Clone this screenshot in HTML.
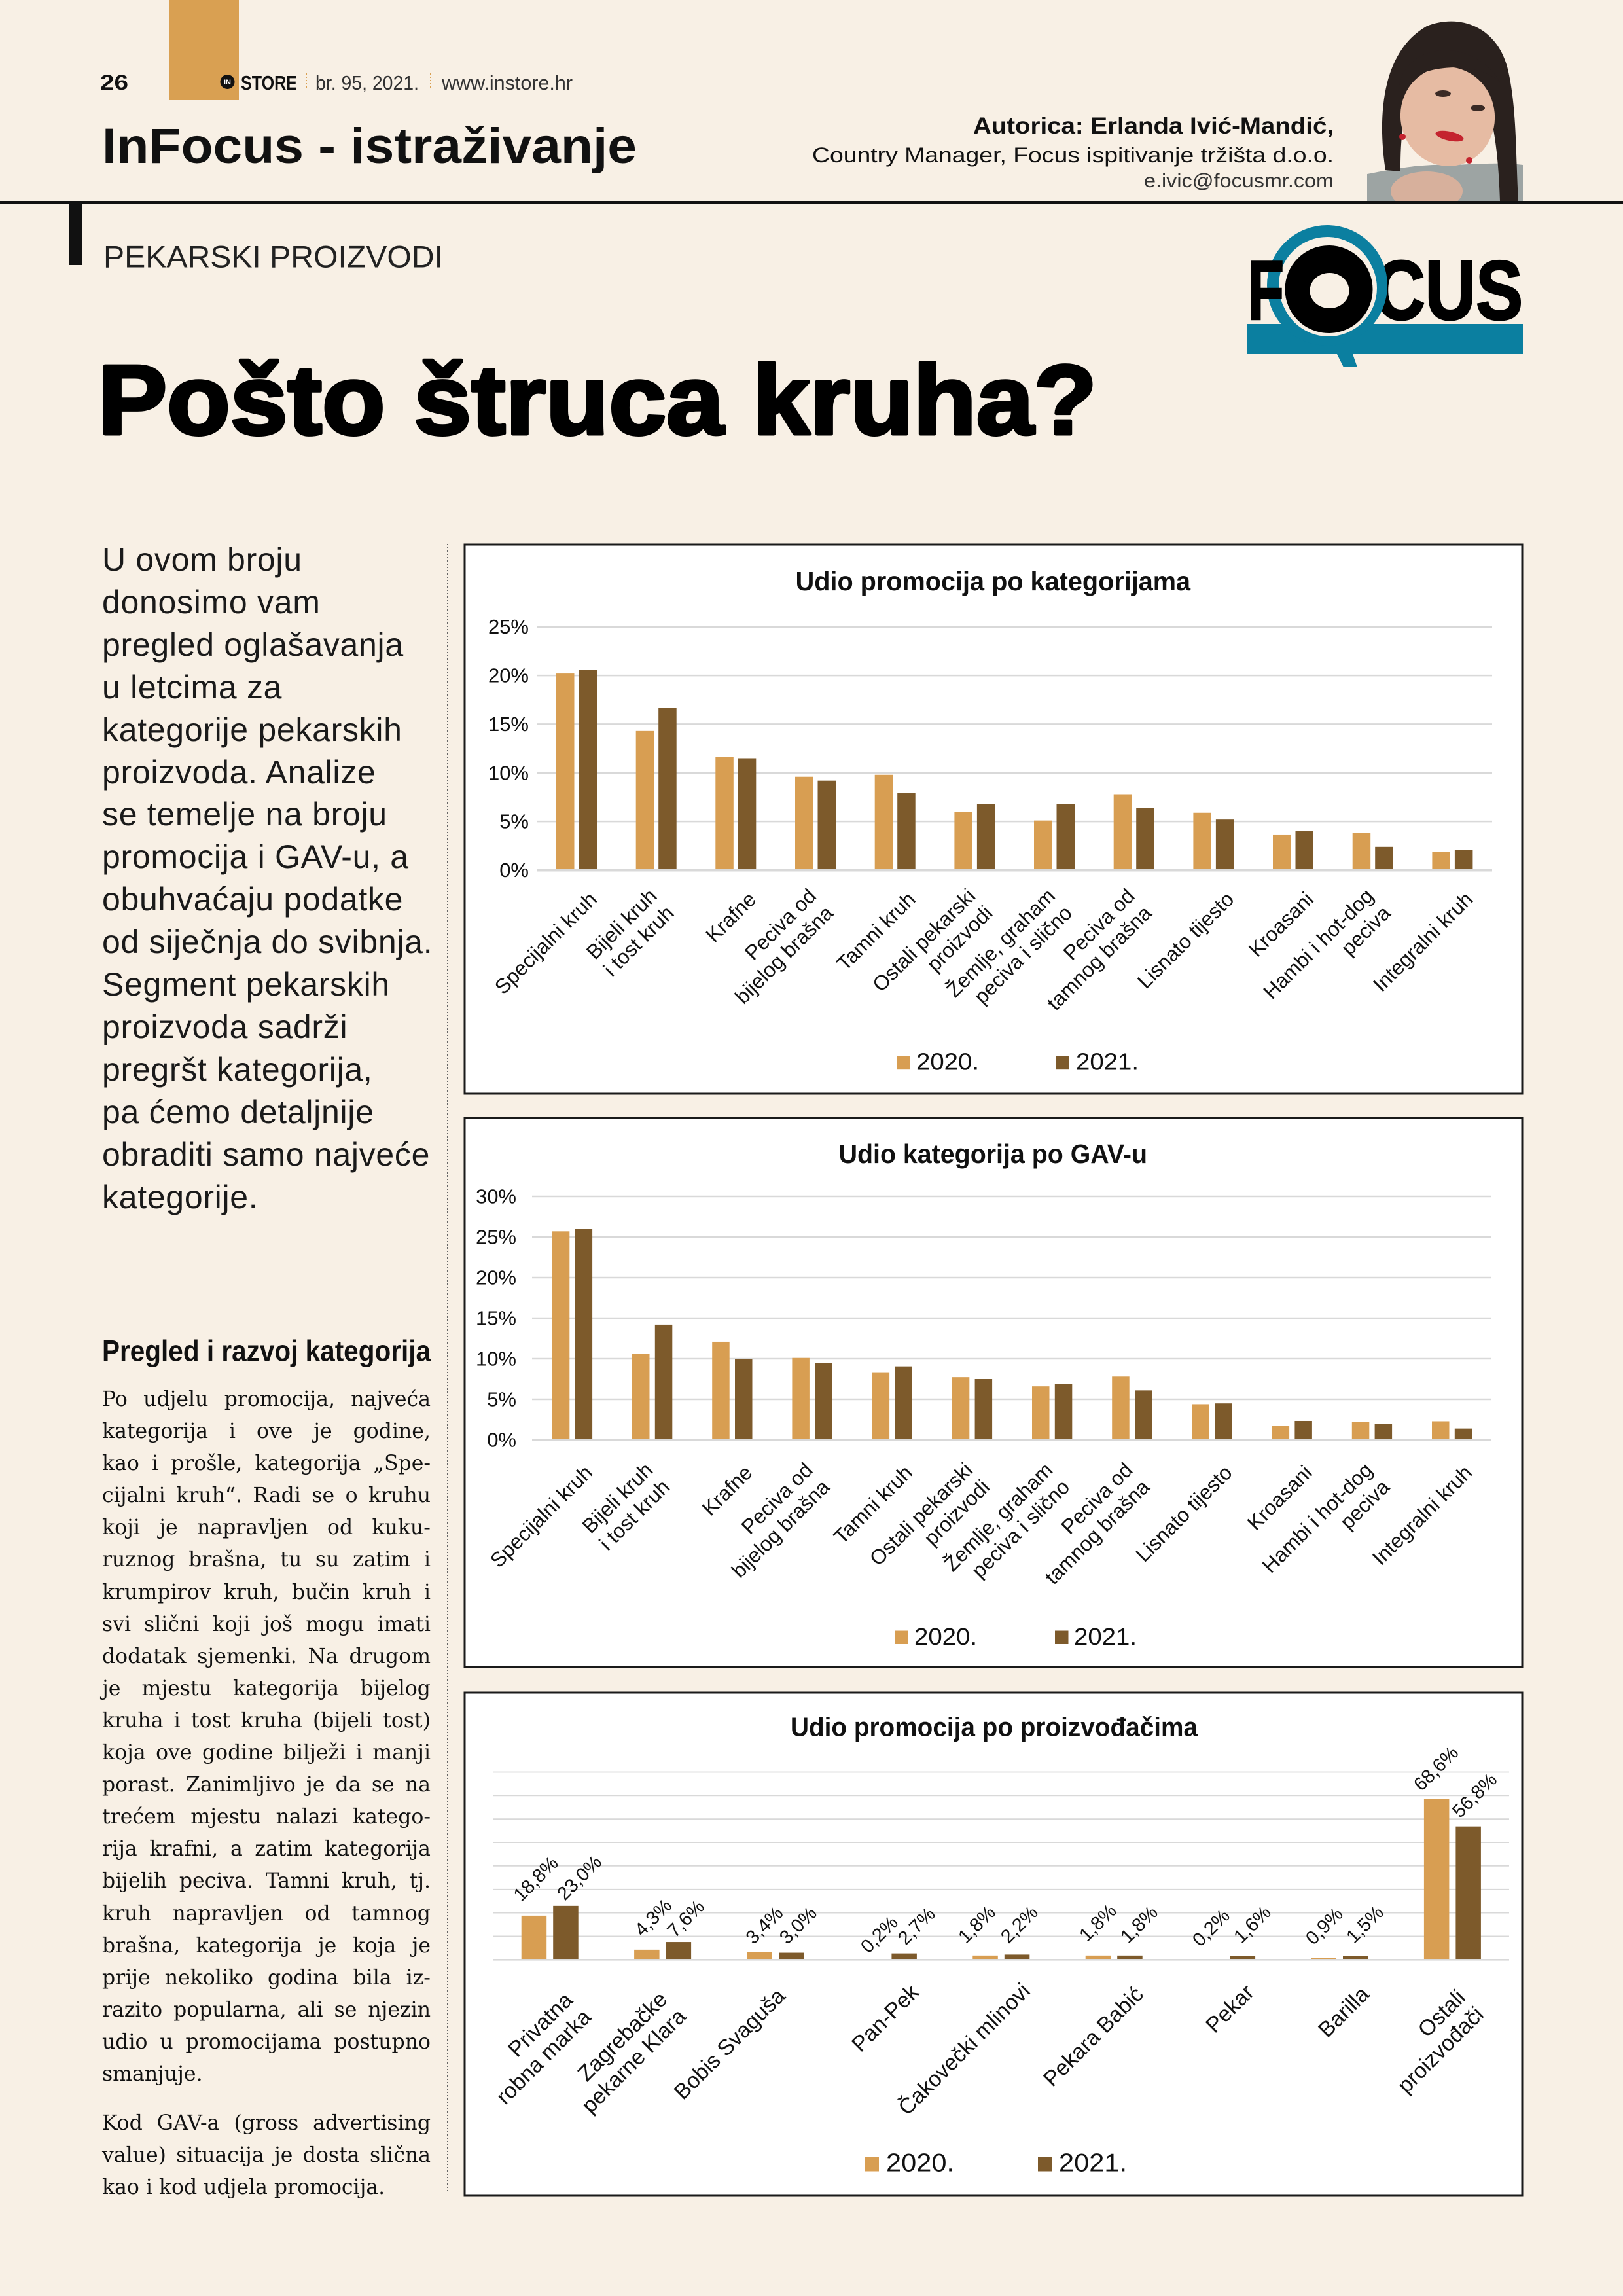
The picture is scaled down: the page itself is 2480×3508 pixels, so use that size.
<!DOCTYPE html>
<html><head><meta charset="utf-8">
<style>
html,body{margin:0;padding:0;}
body{width:2480px;height:3508px;background:#f8f0e5;position:relative;overflow:hidden;font-family:"Liberation Sans",sans-serif;}
svg{position:absolute;left:0;top:0;}
.intro{position:absolute;left:156px;top:823px;font-family:"Liberation Sans",sans-serif;font-size:50px;line-height:64.9px;letter-spacing:0.7px;color:#1a1a1a;white-space:pre;}
.bd{position:absolute;left:156px;width:502px;font-family:"DejaVu Serif",serif;font-size:31.5px;color:#111;}
.j{display:flex;justify-content:space-between;white-space:nowrap;}
.l{white-space:nowrap;}
</style></head><body>
<svg width="2480" height="3508" viewBox="0 0 2480 3508" xmlns="http://www.w3.org/2000/svg" font-family="Liberation Sans, sans-serif">
<defs>
<clipPath id="ph"><rect x="2089" y="0" width="238" height="307"/></clipPath>
</defs>
<!-- header -->
<rect x="259" y="0" width="106" height="153" fill="#d9a052"/>
<text x="153" y="137" font-size="32" font-weight="bold" textLength="43" lengthAdjust="spacingAndGlyphs" fill="#111">26</text>
<circle cx="347.5" cy="125" r="11" fill="#111"/>
<text x="347.5" y="129" font-size="11" font-weight="bold" fill="#fff" text-anchor="middle">IN</text>
<text x="368" y="137" font-size="31" font-weight="bold" textLength="86" lengthAdjust="spacingAndGlyphs" fill="#111">STORE</text>
<line x1="468" y1="112" x2="468" y2="138" stroke="#d9a052" stroke-width="2" stroke-dasharray="2 3"/>
<text x="482" y="137" font-size="31" textLength="158" lengthAdjust="spacingAndGlyphs" fill="#333">br. 95, 2021.</text>
<line x1="658" y1="112" x2="658" y2="138" stroke="#d9a052" stroke-width="2" stroke-dasharray="2 3"/>
<text x="675" y="137" font-size="31" textLength="200" lengthAdjust="spacingAndGlyphs" fill="#333">www.instore.hr</text>
<text x="156" y="249" font-size="76" font-weight="bold" textLength="817" lengthAdjust="spacingAndGlyphs" fill="#111">InFocus - istraživanje</text>
<text x="1487" y="204" font-size="35" font-weight="bold" textLength="551" lengthAdjust="spacingAndGlyphs" fill="#111">Autorica: Erlanda Ivić-Mandić,</text>
<text x="1241" y="248" font-size="32" textLength="797" lengthAdjust="spacingAndGlyphs" fill="#111">Country Manager, Focus ispitivanje tržišta d.o.o.</text>
<text x="1748" y="286" font-size="30" textLength="290" lengthAdjust="spacingAndGlyphs" fill="#333">e.ivic@focusmr.com</text>
<!-- photo -->
<g clip-path="url(#ph)">
<path d="M2089 266 C2130 258 2170 250 2220 252 C2270 250 2300 248 2327 252 L2327 307 L2089 307Z" fill="#9da4a3"/>
<ellipse cx="2180" cy="292" rx="55" ry="30" fill="#d7b09c"/>
<path d="M2117 260 C2105 180 2110 80 2180 40 C2230 20 2290 40 2305 110 C2318 170 2316 240 2320 307 L2292 307 C2290 250 2285 200 2275 170 L2150 160 C2140 200 2140 240 2140 262Z" fill="#2a211e"/>
<ellipse cx="2212" cy="178" rx="72" ry="76" fill="#e6bba3" transform="rotate(-10 2212 178)"/>
<path d="M2138 130 C2150 65 2250 55 2292 125 C2262 98 2190 92 2138 130Z" fill="#2a211e"/>
<ellipse cx="2205" cy="143" rx="12" ry="5" fill="#3a2a25"/>
<ellipse cx="2258" cy="165" rx="11" ry="5" fill="#3a2a25"/>
<ellipse cx="2215" cy="208" rx="22" ry="7" fill="#c4232e" transform="rotate(12 2215 208)"/>
<circle cx="2143" cy="209" r="5" fill="#c4232e"/>
<circle cx="2245" cy="245" r="5" fill="#c4232e"/>
</g>
<!-- rule -->
<rect x="0" y="307" width="2480" height="4.5" fill="#111"/>
<rect x="106" y="309" width="19" height="96" fill="#111"/>
<text x="158" y="408.5" font-size="47" textLength="519" lengthAdjust="spacingAndGlyphs" fill="#222">PEKARSKI PROIZVODI</text>
<!-- FOCUS logo -->
<rect x="1905" y="495" width="422" height="46" fill="#0b7fa0"/>
<text x="2100" y="488" font-size="128" font-weight="bold" textLength="227" lengthAdjust="spacingAndGlyphs" fill="#000" stroke="#000" stroke-width="3">CUS</text>
<circle cx="2028" cy="436" r="83" fill="none" stroke="#0b7fa0" stroke-width="18"/>
<circle cx="2030" cy="440" r="74" fill="#f8f0e5"/>
<text x="1906" y="488" font-size="128" font-weight="bold" textLength="56" lengthAdjust="spacingAndGlyphs" fill="#000" stroke="#000" stroke-width="3">F</text>
<circle cx="2030.5" cy="442" r="67" fill="#000"/>
<ellipse cx="2031.5" cy="444" rx="30" ry="27" fill="#f8f0e5"/>
<polygon points="2043,541 2067,541 2074,561 2053,561" fill="#0b7fa0"/>
<!-- title -->
<text x="150" y="663" font-size="151" font-weight="bold" textLength="1526" lengthAdjust="spacingAndGlyphs" fill="#000" stroke="#000" stroke-width="5" stroke-linejoin="round">Pošto štruca kruha?</text>
<!-- divider -->
<line x1="684" y1="831" x2="684" y2="3351" stroke="#666" stroke-width="2" stroke-dasharray="2 3"/>
<text x="156" y="2079.5" font-size="45" font-weight="bold" textLength="502" lengthAdjust="spacingAndGlyphs" fill="#111">Pregled i razvoj kategorija</text>

<!-- ================= CHART 1 ================= -->
<rect x="710" y="832" width="1616" height="839" fill="#fff" stroke="#1a1a1a" stroke-width="3"/>
<text x="1215.6" y="902" font-size="41" font-weight="bold" textLength="603.5" lengthAdjust="spacingAndGlyphs" fill="#111">Udio promocija po kategorijama</text>
<g stroke="#d9d9d9" stroke-width="2.5">
<line x1="820" y1="957.7" x2="2280" y2="957.7"/>
<line x1="820" y1="1032.1" x2="2280" y2="1032.1"/>
<line x1="820" y1="1106.4" x2="2280" y2="1106.4"/>
<line x1="820" y1="1180.8" x2="2280" y2="1180.8"/>
<line x1="820" y1="1255.1" x2="2280" y2="1255.1"/>
</g>
<g font-size="31" text-anchor="end" fill="#111">
<text x="808" y="968.2">25%</text><text x="808" y="1042.6">20%</text><text x="808" y="1116.9">15%</text>
<text x="808" y="1191.3">10%</text><text x="808" y="1265.6">5%</text><text x="808" y="1340">0%</text>
</g>
<g transform="translate(0,1329.5) scale(1,-14.872)">
<g fill="#d89e52">
<rect x="850" y="0" width="27.5" height="20.2"/><rect x="971.7" y="0" width="27.5" height="14.3"/>
<rect x="1093.3" y="0" width="27.5" height="11.6"/><rect x="1215" y="0" width="27.5" height="9.6"/>
<rect x="1336.7" y="0" width="27.5" height="9.8"/><rect x="1458.4" y="0" width="27.5" height="6.0"/>
<rect x="1580" y="0" width="27.5" height="5.1"/><rect x="1701.7" y="0" width="27.5" height="7.8"/>
<rect x="1823.4" y="0" width="27.5" height="5.9"/><rect x="1945" y="0" width="27.5" height="3.6"/>
<rect x="2066.7" y="0" width="27.5" height="3.8"/><rect x="2188.4" y="0" width="27.5" height="1.9"/>
</g>
<g fill="#7d5a2b">
<rect x="884.5" y="0" width="27.5" height="20.6"/><rect x="1006.2" y="0" width="27.5" height="16.7"/>
<rect x="1127.8" y="0" width="27.5" height="11.5"/><rect x="1249.5" y="0" width="27.5" height="9.2"/>
<rect x="1371.2" y="0" width="27.5" height="7.9"/><rect x="1492.9" y="0" width="27.5" height="6.8"/>
<rect x="1614.5" y="0" width="27.5" height="6.8"/><rect x="1736.2" y="0" width="27.5" height="6.4"/>
<rect x="1857.9" y="0" width="27.5" height="5.2"/><rect x="1979.5" y="0" width="27.5" height="4.0"/>
<rect x="2101.2" y="0" width="27.5" height="2.4"/><rect x="2222.9" y="0" width="27.5" height="2.1"/>
</g>
</g>
<line x1="820" y1="1329.5" x2="2280" y2="1329.5" stroke="#d9d9d9" stroke-width="4"/>
<g font-size="31.5" text-anchor="end" fill="#111">
<text x="914" y="1376" transform="rotate(-45 914 1376)">Specijalni kruh</text>
<text x="1005.7" y="1371" transform="rotate(-45 1005.7 1371)">Bijeli kruh</text>
<text x="1031.7" y="1397" transform="rotate(-45 1031.7 1397)">i tost kruh</text>
<text x="1157.3" y="1376" transform="rotate(-45 1157.3 1376)">Krafne</text>
<text x="1249" y="1371" transform="rotate(-45 1249 1371)">Peciva od</text>
<text x="1275" y="1397" transform="rotate(-45 1275 1397)">bijelog brašna</text>
<text x="1400.7" y="1376" transform="rotate(-45 1400.7 1376)">Tamni kruh</text>
<text x="1492.4" y="1371" transform="rotate(-45 1492.4 1371)">Ostali pekarski</text>
<text x="1518.4" y="1397" transform="rotate(-45 1518.4 1397)">proizvodi</text>
<text x="1614" y="1371" transform="rotate(-45 1614 1371)">Žemlje, graham</text>
<text x="1640" y="1397" transform="rotate(-45 1640 1397)">peciva i slično</text>
<text x="1735.7" y="1371" transform="rotate(-45 1735.7 1371)">Peciva od</text>
<text x="1761.7" y="1397" transform="rotate(-45 1761.7 1397)">tamnog brašna</text>
<text x="1887.4" y="1376" transform="rotate(-45 1887.4 1376)">Lisnato tijesto</text>
<text x="2009" y="1376" transform="rotate(-45 2009 1376)">Kroasani</text>
<text x="2100.7" y="1371" transform="rotate(-45 2100.7 1371)">Hambi i hot-dog</text>
<text x="2126.7" y="1397" transform="rotate(-45 2126.7 1397)">peciva</text>
<text x="2252.4" y="1376" transform="rotate(-45 2252.4 1376)">Integralni kruh</text>
</g>
<rect x="1370" y="1613.7" width="20.5" height="20.5" fill="#d89e52"/>
<text x="1400" y="1634.5" font-size="36" textLength="96" lengthAdjust="spacingAndGlyphs" fill="#111">2020.</text>
<rect x="1613" y="1613.7" width="20.5" height="20.5" fill="#7d5a2b"/>
<text x="1644" y="1634.5" font-size="36" textLength="96" lengthAdjust="spacingAndGlyphs" fill="#111">2021.</text>

<!-- ================= CHART 2 ================= -->
<rect x="710" y="1708" width="1616" height="839" fill="#fff" stroke="#1a1a1a" stroke-width="3"/>
<text x="1281.6" y="1777" font-size="41" font-weight="bold" textLength="471.4" lengthAdjust="spacingAndGlyphs" fill="#111">Udio kategorija po GAV-u</text>
<g stroke="#d9d9d9" stroke-width="2.5">
<line x1="813" y1="1828" x2="2279" y2="1828"/>
<line x1="813" y1="1890" x2="2279" y2="1890"/>
<line x1="813" y1="1952" x2="2279" y2="1952"/>
<line x1="813" y1="2014" x2="2279" y2="2014"/>
<line x1="813" y1="2076" x2="2279" y2="2076"/>
<line x1="813" y1="2138" x2="2279" y2="2138"/>
</g>
<g font-size="31" text-anchor="end" fill="#111">
<text x="789" y="1838.5">30%</text><text x="789" y="1900.5">25%</text><text x="789" y="1962.5">20%</text>
<text x="789" y="2024.5">15%</text><text x="789" y="2086.5">10%</text><text x="789" y="2148.5">5%</text>
<text x="789" y="2210.5">0%</text>
</g>
<g transform="translate(0,2200) scale(1,-12.4)">
<g fill="#d89e52">
<rect x="843.8" y="0" width="26.5" height="25.7"/><rect x="966" y="0" width="26.5" height="10.6"/>
<rect x="1088.2" y="0" width="26.5" height="12.1"/><rect x="1210.4" y="0" width="26.5" height="10.1"/>
<rect x="1332.6" y="0" width="26.5" height="8.26"/><rect x="1454.8" y="0" width="26.5" height="7.73"/>
<rect x="1577" y="0" width="26.5" height="6.6"/><rect x="1699.2" y="0" width="26.5" height="7.8"/>
<rect x="1821.4" y="0" width="26.5" height="4.4"/><rect x="1943.6" y="0" width="26.5" height="1.77"/>
<rect x="2065.8" y="0" width="26.5" height="2.2"/><rect x="2188" y="0" width="26.5" height="2.3"/>
</g>
<g fill="#7d5a2b">
<rect x="878.6" y="0" width="26.5" height="26.0"/><rect x="1000.8" y="0" width="26.5" height="14.2"/>
<rect x="1123" y="0" width="26.5" height="10.0"/><rect x="1245.2" y="0" width="26.5" height="9.45"/>
<rect x="1367.4" y="0" width="26.5" height="9.06"/><rect x="1489.6" y="0" width="26.5" height="7.5"/>
<rect x="1611.8" y="0" width="26.5" height="6.9"/><rect x="1734" y="0" width="26.5" height="6.1"/>
<rect x="1856.2" y="0" width="26.5" height="4.5"/><rect x="1978.4" y="0" width="26.5" height="2.34"/>
<rect x="2100.6" y="0" width="26.5" height="2.0"/><rect x="2222.8" y="0" width="26.5" height="1.4"/>
</g>
</g>
<line x1="813" y1="2200" x2="2279" y2="2200" stroke="#d9d9d9" stroke-width="4"/>
<g font-size="31.5" text-anchor="end" fill="#111">
<text x="907.1" y="2252" transform="rotate(-45 907.1 2252)">Specijalni kruh</text>
<text x="999.3" y="2248" transform="rotate(-45 999.3 2248)">Bijeli kruh</text>
<text x="1025.3" y="2274" transform="rotate(-45 1025.3 2274)">i tost kruh</text>
<text x="1151.5" y="2252" transform="rotate(-45 1151.5 2252)">Krafne</text>
<text x="1243.7" y="2248" transform="rotate(-45 1243.7 2248)">Peciva od</text>
<text x="1269.7" y="2274" transform="rotate(-45 1269.7 2274)">bijelog brašna</text>
<text x="1395.9" y="2252" transform="rotate(-45 1395.9 2252)">Tamni kruh</text>
<text x="1488.1" y="2248" transform="rotate(-45 1488.1 2248)">Ostali pekarski</text>
<text x="1514.1" y="2274" transform="rotate(-45 1514.1 2274)">proizvodi</text>
<text x="1610.3" y="2248" transform="rotate(-45 1610.3 2248)">Žemlje, graham</text>
<text x="1636.3" y="2274" transform="rotate(-45 1636.3 2274)">peciva i slično</text>
<text x="1732.5" y="2248" transform="rotate(-45 1732.5 2248)">Peciva od</text>
<text x="1758.5" y="2274" transform="rotate(-45 1758.5 2274)">tamnog brašna</text>
<text x="1884.7" y="2252" transform="rotate(-45 1884.7 2252)">Lisnato tijesto</text>
<text x="2006.9" y="2252" transform="rotate(-45 2006.9 2252)">Kroasani</text>
<text x="2099.1" y="2248" transform="rotate(-45 2099.1 2248)">Hambi i hot-dog</text>
<text x="2125.1" y="2274" transform="rotate(-45 2125.1 2274)">peciva</text>
<text x="2251.3" y="2252" transform="rotate(-45 2251.3 2252)">Integralni kruh</text>
</g>
<rect x="1367" y="2491.5" width="20.5" height="20.5" fill="#d89e52"/>
<text x="1397" y="2513" font-size="36" textLength="96" lengthAdjust="spacingAndGlyphs" fill="#111">2020.</text>
<rect x="1612" y="2491.5" width="20.5" height="20.5" fill="#7d5a2b"/>
<text x="1641" y="2513" font-size="36" textLength="96" lengthAdjust="spacingAndGlyphs" fill="#111">2021.</text>

<!-- ================= CHART 3 ================= -->
<rect x="710" y="2586" width="1616" height="768" fill="#fff" stroke="#1a1a1a" stroke-width="3"/>
<text x="1208" y="2652.6" font-size="41" font-weight="bold" textLength="622" lengthAdjust="spacingAndGlyphs" fill="#111">Udio promocija po proizvođačima</text>
<g stroke="#d9d9d9" stroke-width="1.8">
<line x1="754" y1="2707.5" x2="2306" y2="2707.5"/>
<line x1="754" y1="2743.35" x2="2306" y2="2743.35"/>
<line x1="754" y1="2779.2" x2="2306" y2="2779.2"/>
<line x1="754" y1="2815.05" x2="2306" y2="2815.05"/>
<line x1="754" y1="2850.9" x2="2306" y2="2850.9"/>
<line x1="754" y1="2886.75" x2="2306" y2="2886.75"/>
<line x1="754" y1="2922.6" x2="2306" y2="2922.6"/>
<line x1="754" y1="2958.45" x2="2306" y2="2958.45"/>
</g>
<g transform="translate(0,2994.3) scale(1,-3.585)">
<g fill="#d89e52">
<rect x="796.7" y="0" width="38.5" height="18.8"/><rect x="969.1" y="0" width="38.5" height="4.3"/>
<rect x="1141.5" y="0" width="38.5" height="3.4"/><rect x="1313.9" y="0" width="38.5" height="0.2"/>
<rect x="1486.3" y="0" width="38.5" height="1.8"/><rect x="1658.7" y="0" width="38.5" height="1.8"/>
<rect x="1831.1" y="0" width="38.5" height="0.2"/><rect x="2003.5" y="0" width="38.5" height="0.9"/>
<rect x="2175.9" y="0" width="38.5" height="68.6"/>
</g>
<g fill="#7d5a2b">
<rect x="845.2" y="0" width="38.5" height="23.0"/><rect x="1017.6" y="0" width="38.5" height="7.6"/>
<rect x="1190" y="0" width="38.5" height="3.0"/><rect x="1362.4" y="0" width="38.5" height="2.7"/>
<rect x="1534.8" y="0" width="38.5" height="2.2"/><rect x="1707.2" y="0" width="38.5" height="1.8"/>
<rect x="1879.6" y="0" width="38.5" height="1.6"/><rect x="2052" y="0" width="38.5" height="1.5"/>
<rect x="2224.4" y="0" width="38.5" height="56.8"/>
</g>
</g>
<line x1="754" y1="2994.3" x2="2306" y2="2994.3" stroke="#d9d9d9" stroke-width="2.7"/>
<g font-size="29" fill="#111">
<text x="796.5" y="2906.7" transform="rotate(-45 796.5 2906.7)">18,8%</text>
<text x="863" y="2905" transform="rotate(-45 863 2905)">23,0%</text>
<text x="981.5" y="2960" transform="rotate(-45 981.5 2960)">4,3%</text>
<text x="1031.5" y="2961.7" transform="rotate(-45 1031.5 2961.7)">7,6%</text>
<text x="1151.5" y="2971.7" transform="rotate(-45 1151.5 2971.7)">3,4%</text>
<text x="1203" y="2971.7" transform="rotate(-45 1203 2971.7)">3,0%</text>
<text x="1327" y="2985.8" transform="rotate(-45 1327 2985.8)">0,2%</text>
<text x="1384" y="2973" transform="rotate(-45 1384 2973)">2,7%</text>
<text x="1476" y="2970.5" transform="rotate(-45 1476 2970.5)">1,8%</text>
<text x="1541" y="2970.5" transform="rotate(-45 1541 2970.5)">2,2%</text>
<text x="1661" y="2968" transform="rotate(-45 1661 2968)">1,8%</text>
<text x="1724" y="2970.5" transform="rotate(-45 1724 2970.5)">1,8%</text>
<text x="1834" y="2975.6" transform="rotate(-45 1834 2975.6)">0,2%</text>
<text x="1897" y="2970.5" transform="rotate(-45 1897 2970.5)">1,6%</text>
<text x="2007" y="2973" transform="rotate(-45 2007 2973)">0,9%</text>
<text x="2069" y="2970.5" transform="rotate(-45 2069 2970.5)">1,5%</text>
<text x="2172" y="2738" transform="rotate(-45 2172 2738)">68,6%</text>
<text x="2231" y="2779" transform="rotate(-45 2231 2779)">56,8%</text>
</g>
<g font-size="33.5" text-anchor="end" fill="#111">
<text x="877" y="3058" transform="rotate(-45 877 3058)">Privatna</text>
<text x="905" y="3084" transform="rotate(-45 905 3084)">robna marka</text>
<text x="1021.7" y="3056.7" transform="rotate(-45 1021.7 3056.7)">Zagrebačke</text>
<text x="1050" y="3083" transform="rotate(-45 1050 3083)">pekarne Klara</text>
<text x="1201.7" y="3051.7" transform="rotate(-45 1201.7 3051.7)">Bobis Svaguša</text>
<text x="1406" y="3046" transform="rotate(-45 1406 3046)">Pan-Pek</text>
<text x="1576" y="3044" transform="rotate(-45 1576 3044)">Čakovečki mlinovi</text>
<text x="1749" y="3049" transform="rotate(-45 1749 3049)">Pekara Babić</text>
<text x="1918" y="3046" transform="rotate(-45 1918 3046)">Pekar</text>
<text x="2094" y="3049" transform="rotate(-45 2094 3049)">Barilla</text>
<text x="2241" y="3054" transform="rotate(-45 2241 3054)">Ostali</text>
<text x="2269" y="3080" transform="rotate(-45 2269 3080)">proizvođači</text>
</g>
<rect x="1322" y="3295.5" width="21" height="22" fill="#d89e52"/>
<text x="1354" y="3317.5" font-size="39" textLength="104" lengthAdjust="spacingAndGlyphs" fill="#111">2020.</text>
<rect x="1586" y="3295.5" width="21" height="22" fill="#7d5a2b"/>
<text x="1618" y="3317.5" font-size="39" textLength="104" lengthAdjust="spacingAndGlyphs" fill="#111">2021.</text>
</svg>

<div class="intro">U ovom broju
donosimo vam
pregled oglašavanja
u letcima za
kategorije pekarskih
proizvoda. Analize
se temelje na broju
promocija i GAV-u, a
obuhvaćaju podatke
od siječnja do svibnja.
Segment pekarskih
proizvoda sadrži
pregršt kategorija,
pa ćemo detaljnije
obraditi samo najveće
kategorije.</div>

<div class="bd" style="top:2114px;line-height:49.1px;">
<div class="j"><span>Po</span><span>udjelu</span><span>promocija,</span><span>najveća</span></div>
<div class="j"><span>kategorija</span><span>i</span><span>ove</span><span>je</span><span>godine,</span></div>
<div class="j"><span>kao</span><span>i</span><span>prošle,</span><span>kategorija</span><span>„Spe-</span></div>
<div class="j"><span>cijalni</span><span>kruh“.</span><span>Radi</span><span>se</span><span>o</span><span>kruhu</span></div>
<div class="j"><span>koji</span><span>je</span><span>napravljen</span><span>od</span><span>kuku-</span></div>
<div class="j"><span>ruznog</span><span>brašna,</span><span>tu</span><span>su</span><span>zatim</span><span>i</span></div>
<div class="j"><span>krumpirov</span><span>kruh,</span><span>bučin</span><span>kruh</span><span>i</span></div>
<div class="j"><span>svi</span><span>slični</span><span>koji</span><span>još</span><span>mogu</span><span>imati</span></div>
<div class="j"><span>dodatak</span><span>sjemenki.</span><span>Na</span><span>drugom</span></div>
<div class="j"><span>je</span><span>mjestu</span><span>kategorija</span><span>bijelog</span></div>
<div class="j"><span>kruha</span><span>i</span><span>tost</span><span>kruha</span><span>(bijeli</span><span>tost)</span></div>
<div class="j"><span>koja</span><span>ove</span><span>godine</span><span>bilježi</span><span>i</span><span>manji</span></div>
<div class="j"><span>porast.</span><span>Zanimljivo</span><span>je</span><span>da</span><span>se</span><span>na</span></div>
<div class="j"><span>trećem</span><span>mjestu</span><span>nalazi</span><span>katego-</span></div>
<div class="j"><span>rija</span><span>krafni,</span><span>a</span><span>zatim</span><span>kategorija</span></div>
<div class="j"><span>bijelih</span><span>peciva.</span><span>Tamni</span><span>kruh,</span><span>tj.</span></div>
<div class="j"><span>kruh</span><span>napravljen</span><span>od</span><span>tamnog</span></div>
<div class="j"><span>brašna,</span><span>kategorija</span><span>je</span><span>koja</span><span>je</span></div>
<div class="j"><span>prije</span><span>nekoliko</span><span>godina</span><span>bila</span><span>iz-</span></div>
<div class="j"><span>razito</span><span>popularna,</span><span>ali</span><span>se</span><span>njezin</span></div>
<div class="j"><span>udio</span><span>u</span><span>promocijama</span><span>postupno</span></div>
<div class="l">smanjuje.</div>
</div>

<div class="bd" style="top:3220.3px;line-height:48.7px;">
<div class="j"><span>Kod</span><span>GAV-a</span><span>(gross</span><span>advertising</span></div>
<div class="j"><span>value)</span><span>situacija</span><span>je</span><span>dosta</span><span>slična</span></div>
<div class="l">kao i kod udjela promocija.</div>
</div>
</body></html>
